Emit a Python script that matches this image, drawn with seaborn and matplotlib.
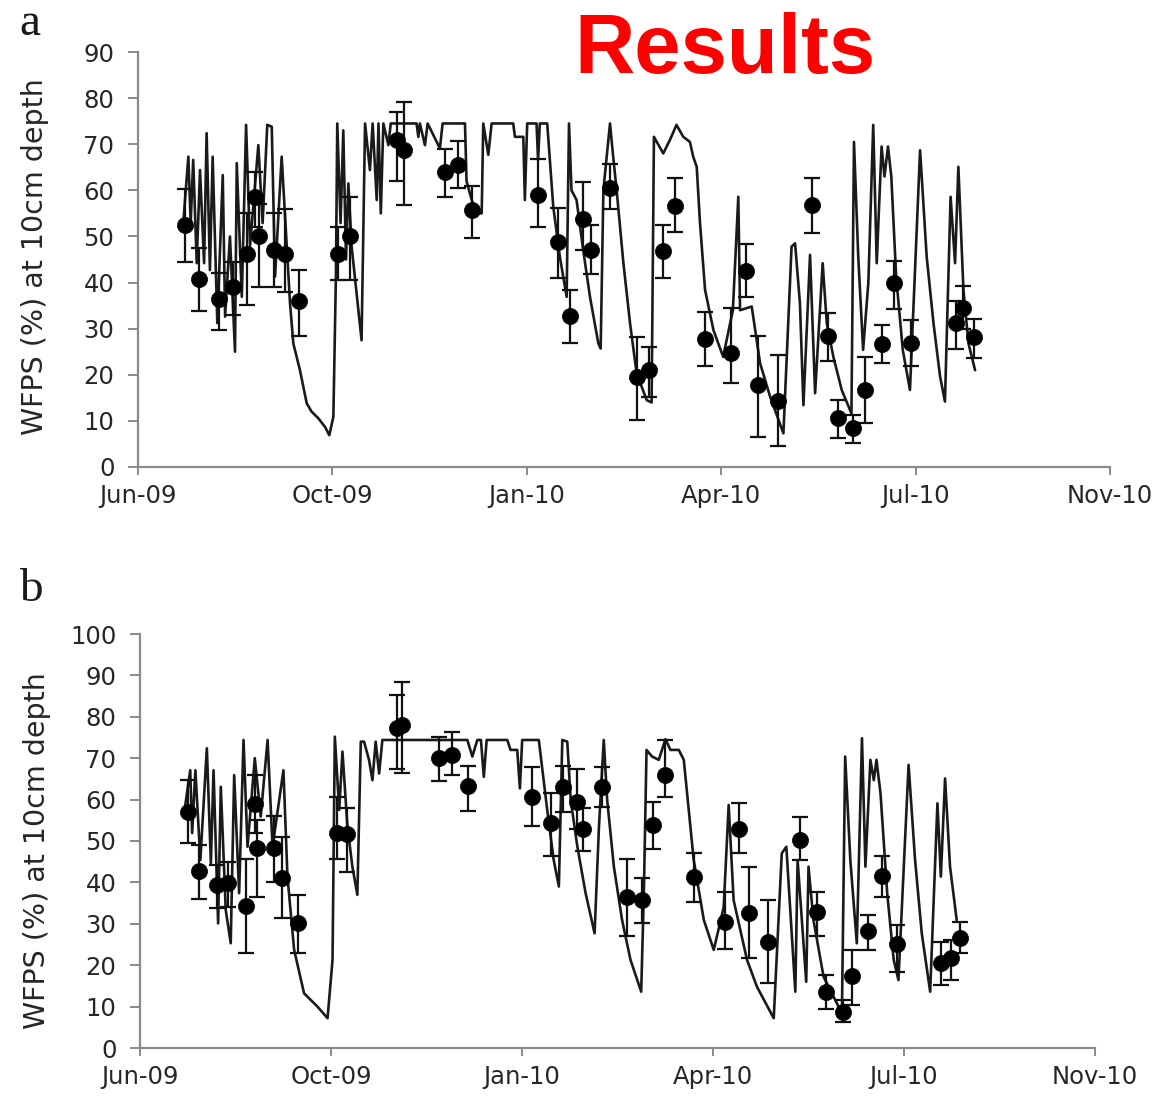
import numpy as np
import pandas as pd
import matplotlib
matplotlib.use("Agg")
import matplotlib.pyplot as plt
import seaborn as sns

# ---------------- data (days counted from 24 Jun 2009, the first axis tick) ----------------
START = "2009-06-24"
x_tick_labels = ["Jun-09", "Oct-09", "Jan-10", "Apr-10", "Jul-10", "Nov-10"]

# Panel a: simulated WFPS line (vertices)
line_a_day = [23.3, 25.9, 27.1, 28.4, 30.2, 31.9, 34.0, 35.3, 37.0, 38.4, 40.8, 43.6, 44.8, 47.3,
              49.9, 50.8, 53.4, 55.6, 57.6, 61.9, 64.1, 66.5, 68.8, 70.5, 73.9, 76.5, 78.2, 79.9,
              83.3, 86.8, 89.3, 92.7, 96.2, 98.4, 100.5, 101.8, 102.5, 104.2, 105.6, 107.0, 108.2,
              109.9, 115.0, 116.8, 119.3, 120.7, 122.8, 123.7, 124.9, 126.2, 128.8, 130.0, 143.3,
              144.2, 145.0, 147.6, 149.0, 155.3, 156.7, 168.2, 169.0, 171.6, 174.2, 176.8, 177.6, 180.2,
              181.9, 193.0, 193.9, 198.2, 199.0, 200.2, 205.0, 205.8, 206.7, 210.5, 213.6, 217.0,
              220.5, 221.7, 223.0, 225.6, 229.0, 232.5, 236.8, 238.0, 239.4, 242.8, 244.5, 246.2,
              249.7, 253.1, 256.5, 261.7, 264.2, 265.4, 270.2, 273.7, 277.0, 280.5, 283.9, 285.6,
              287.4, 289.1, 291.7, 296.0, 301.0, 306.0, 308.8, 309.7, 315.7, 320.0, 325.2, 332.0,
              336.2, 338.0, 340.5, 342.3, 345.7, 348.3, 352.2, 354.3, 357.7, 362.0, 367.0, 368.3,
              370.5, 373.0, 375.7, 378.2, 380.0, 382.5, 384.0, 385.8, 387.5, 390.0, 393.4, 397.1,
              402.3, 405.7, 409.2, 412.6, 415.1, 418.0, 420.3, 422.0, 424.6, 427.2, 430.6]
line_a_val = [53.0, 67.3, 52.9, 66.6, 44.2, 64.4, 44.2, 72.4, 42.7, 67.3, 31.2, 63.3, 32.6, 50.0,
              25.0, 65.9, 36.9, 74.2, 47.8, 69.8, 52.9, 74.2, 73.8, 41.3, 67.3, 48.0, 35.5, 26.8,
              21.0, 13.8, 12.0, 10.6, 8.7, 6.9, 10.9, 41.3, 74.5, 52.9, 73.0, 45.0, 61.5,
              47.8, 27.5, 74.5, 64.4, 74.5, 57.9, 74.5, 55.0, 74.5, 69.8, 74.5, 74.5,
              71.6, 74.5, 69.8, 74.5, 69.1, 74.5, 74.5, 62.0, 58.0, 55.0, 55.0, 74.5, 67.7,
              74.5, 74.5, 71.6, 71.6, 57.9, 74.5, 74.5, 66.6, 74.5, 74.5, 56.5, 45.6,
              36.9, 74.5, 60.0, 57.9, 47.1, 36.9, 26.8, 25.7, 60.1, 74.5, 67.0, 60.1,
              44.2, 31.2, 20.3, 14.5, 14.0, 71.6, 68.0, 71.0, 74.2, 71.6, 70.5, 67.3,
              65.1, 52.9, 38.4, 29.7, 23.9, 34.0, 58.6, 34.0, 34.8, 22.5, 15.2, 7.3,
              47.8, 48.5, 35.5, 13.4, 46.0, 16.0, 44.2, 31.2, 23.9, 16.7, 11.6, 70.5,
              45.6, 25.4, 40.0, 74.2, 44.2, 69.5, 63.0, 69.5, 63.0, 41.3, 25.4, 16.7,
              68.7, 45.6, 31.2, 19.6, 14.2, 58.6, 44.2, 65.1, 38.4, 26.8, 21.0]

# Panel a: measured WFPS (mean, upper and lower error-bar ends)
obs_a_day = [24.0, 31.4, 41.7, 49.0, 56.0, 60.0, 62.0, 70.0, 75.6, 82.8, 103.0, 109.0, 133.0, 137.0,
             158.0, 164.8, 171.6, 206.0, 216.0, 222.0, 229.0, 233.0, 242.8, 256.5, 263.0, 270.0,
             276.0, 291.7, 305.0, 313.0, 319.0, 329.0, 346.5, 355.0, 360.0, 368.0, 374.0, 382.5,
             389.0, 397.5, 421.0, 424.6, 430.0]
obs_a_val = [52.5, 40.7, 36.4, 39.1, 46.3, 58.6, 50.2, 47.1, 46.3, 35.9, 46.3, 50.0, 71.0, 68.7,
             64.0, 65.5, 55.7, 59.0, 48.9, 32.7, 53.7, 47.0, 60.6, 19.5, 21.0, 46.8,
             56.6, 27.7, 24.8, 42.5, 17.8, 14.4, 56.8, 28.4, 10.6, 8.4, 16.7, 26.7,
             39.8, 26.8, 31.2, 34.4, 28.1]
obs_a_hi = [60.2, 47.5, 42.0, 44.5, 55.0, 64.0, 57.0, 55.0, 56.0, 42.7, 52.0, 58.5, 77.0, 79.2,
            69.0, 70.6, 61.0, 66.9, 56.2, 38.4, 61.7, 52.5, 65.7, 28.3, 26.1, 52.5,
            62.6, 33.7, 34.4, 48.3, 28.4, 24.3, 62.6, 33.3, 14.5, 11.3, 23.9, 30.8,
            44.7, 31.9, 36.0, 39.3, 32.0]
obs_a_lo = [44.5, 33.9, 29.7, 33.0, 35.1, 52.0, 39.0, 39.0, 38.0, 28.4, 40.5, 40.5, 62.0, 56.8,
            58.5, 60.5, 49.7, 52.1, 41.0, 27.0, 47.0, 41.9, 56.0, 10.2, 15.2, 41.0,
            51.0, 21.9, 18.3, 36.9, 6.6, 4.6, 50.8, 23.0, 6.2, 5.1, 9.5, 22.5,
            34.2, 21.9, 25.5, 30.0, 23.7]

# Panel b: simulated WFPS line (vertices)
line_b_day = [23.2, 26.3, 27.3, 29.0, 31.6, 35.0, 37.1, 38.5, 40.9, 42.3, 44.9, 47.5, 49.3, 51.9,
              54.2, 56.3, 60.1, 63.2, 66.8, 69.4, 75.1, 77.2, 80.7, 85.9, 92.9, 98.2, 100.8, 102.0,
              104.3, 106.0, 108.6, 111.2, 113.8, 115.6, 117.3, 119.9, 121.7, 123.4, 125.2, 126.9,
              171.4, 174.0, 176.6, 178.5, 180.0, 181.5, 192.3, 194.0, 197.5, 198.9, 200.1, 208.8,
              213.2, 216.6, 219.3, 221.1, 223.7, 225.5, 229.0, 233.3, 238.0, 240.3, 242.8, 244.6,
              248.1, 252.4, 256.8, 262.4, 263.8, 265.2, 268.1, 271.6, 275.1, 277.7, 282.1, 284.7,
              287.3, 289.9, 295.2, 300.4, 305.6, 308.2, 310.8, 317.8, 323.0, 331.8, 336.0, 338.4,
              343.1, 344.3, 348.8, 350.0, 352.6, 357.9, 363.1, 367.5, 369.2, 371.9, 375.3, 378.0,
              379.8, 382.4, 384.2, 385.6, 387.7, 391.2, 394.6, 397.1, 402.4, 405.8, 409.3, 413.7,
              417.5, 419.3, 421.5, 424.1, 427.6]
line_b_val = [57.0, 67.1, 51.9, 67.1, 45.4, 72.4, 44.6, 67.1, 30.1, 63.1, 33.3, 25.3, 65.9, 37.4,
              74.4, 48.6, 70.0, 55.9, 74.4, 48.6, 67.1, 41.4, 23.7, 13.2, 10.0, 7.2, 21.3, 75.2,
              57.5, 71.6, 53.5, 43.8, 37.0, 74.0, 74.0, 69.6, 64.7, 74.0, 66.3, 74.4,
              74.4, 70.4, 74.4, 74.4, 65.5, 74.4, 74.4, 72.0, 72.0, 62.7, 74.4, 74.4,
              57.5, 45.4, 39.0, 74.4, 74.0, 59.9, 48.6, 37.4, 27.7, 53.5, 74.4, 59.9,
              43.8, 30.9, 21.3, 13.6, 37.4, 72.0, 70.4, 69.6, 74.6, 72.0, 72.0, 69.6,
              57.5, 45.4, 30.9, 23.7, 34.0, 58.7, 35.7, 21.3, 14.8, 7.2, 47.0, 48.6,
              13.6, 45.4, 16.0, 43.8, 30.9, 17.2, 12.4, 8.4, 70.4, 45.4, 25.3, 74.8,
              43.8, 69.6, 64.7, 69.6, 61.5, 37.4, 21.3, 16.4, 68.4, 45.4, 27.7, 13.6,
              59.1, 41.4, 65.1, 43.8, 30.9]

# Panel b: measured WFPS
obs_b_day = [25.0, 31.0, 40.3, 46.0, 55.4, 60.0, 61.5, 70.0, 74.6, 82.5, 103.4, 108.6, 134.8, 137.4,
             156.5, 163.5, 171.7, 205.4, 215.3, 221.6, 228.6, 232.0, 242.0, 255.0, 263.0, 268.7,
             275.0, 290.0, 306.5, 313.4, 318.7, 328.8, 345.7, 354.4, 359.3, 368.0, 372.7, 381.4,
             388.4, 396.3, 419.3, 424.5, 429.4]
obs_b_val = [57.1, 42.8, 39.4, 39.8, 34.3, 59.0, 48.2, 48.2, 41.0, 30.1, 51.9, 51.7, 77.2, 78.0,
             70.0, 70.8, 63.3, 60.7, 54.4, 63.1, 59.5, 53.0, 63.1, 36.4, 35.7, 53.9,
             66.0, 41.2, 30.5, 53.0, 32.7, 25.7, 50.2, 32.9, 13.6, 8.8, 17.4, 28.3,
             41.5, 25.1, 20.5, 21.7, 26.5]
obs_b_hi = [64.7, 49.0, 44.2, 45.0, 45.6, 66.0, 55.0, 56.0, 51.0, 37.0, 60.7, 58.0, 85.3, 88.5,
            75.2, 76.4, 68.0, 67.8, 61.7, 68.1, 67.3, 58.0, 67.8, 45.6, 41.0, 59.5,
            74.4, 47.2, 37.8, 59.1, 43.8, 35.7, 55.9, 37.8, 17.6, 11.6, 23.7, 32.1,
            46.4, 29.7, 25.7, 26.1, 30.5]
obs_b_lo = [49.6, 35.9, 33.7, 34.0, 23.0, 52.0, 36.5, 40.0, 31.3, 23.0, 45.6, 42.6, 67.3, 66.4,
            64.6, 66.0, 57.3, 53.7, 46.4, 57.1, 53.0, 47.7, 58.3, 27.0, 30.1, 48.0,
            60.7, 35.3, 23.8, 47.2, 21.8, 15.8, 45.4, 27.0, 9.3, 6.4, 10.4, 23.7,
            36.5, 18.4, 15.2, 16.4, 22.9]

# ---------------- style ----------------
sns.set_theme(style="white")
plt.rcParams['font.family'] = ['DejaVu Sans']

W, H = 1164, 1097
fig = plt.figure(figsize=(W / 100, H / 100), dpi=100)
fig.patch.set_facecolor("white")

start = pd.Timestamp(START)
ticks = [start + pd.Timedelta(days=100 * k) for k in range(len(x_tick_labels))]

SPINE = "#8a8a8a"
TXT = "#262626"


def to_dates(days):
    return start + pd.to_timedelta(np.asarray(days, dtype=float), unit="D")


def draw(ax, lday, lval, oday, oval, ohi, olo, ymax):
    ldf = pd.DataFrame({"date": to_dates(lday), "wfps": lval})
    odf = pd.DataFrame({"date": to_dates(oday), "wfps": oval, "hi": ohi, "lo": olo})
    sns.lineplot(data=ldf, x="date", y="wfps", ax=ax, color="#1a1a1a", lw=1.9,
                 estimator=None, sort=False, zorder=2)
    ax.errorbar(odf["date"], odf["wfps"],
                yerr=[odf["wfps"] - odf["lo"], odf["hi"] - odf["wfps"]],
                fmt="none", ecolor="#111111", elinewidth=1.6, capsize=5.5, capthick=1.6, zorder=3)
    sns.scatterplot(data=odf, x="date", y="wfps", ax=ax, color="black", s=135,
                    edgecolor="black", linewidth=0.5, zorder=4)
    ax.set_xlim(ticks[0], ticks[-1])
    ax.set_ylim(0, ymax)
    ax.set_yticks(np.arange(0, ymax + 1, 10))
    ax.set_xticks(ticks)
    ax.set_xticklabels(x_tick_labels)
    ax.set_xlabel("")
    ax.set_ylabel("")
    sns.despine(ax=ax)
    for s in ("left", "bottom"):
        ax.spines[s].set_color(SPINE)
        ax.spines[s].set_linewidth(1.6)
    ax.tick_params(axis="y", left=True, direction="out", length=7, width=1.4, color=SPINE,
                   labelsize=17.5, labelcolor=TXT, pad=10)
    ax.tick_params(axis="x", bottom=True, direction="out", length=6, width=1.4, color=SPINE,
                   labelsize=17.5, labelcolor=TXT, pad=6)
    ax.set_facecolor("white")
    ax.grid(False)


ax_a = fig.add_axes([138 / W, 1 - 467 / H, 972 / W, 415 / H])
ax_b = fig.add_axes([140 / W, 1 - 1048 / H, 955 / W, 414 / H])

draw(ax_a, line_a_day, line_a_val, obs_a_day, obs_a_val, obs_a_hi, obs_a_lo, 90)
draw(ax_b, line_b_day, line_b_val, obs_b_day, obs_b_val, obs_b_hi, obs_b_lo, 100)

ylab = "WFPS (%) at 10cm depth"
fig.text(35 / W, 1 - 257 / H, ylab, rotation=90, ha="center", va="center",
         fontsize=20.5, color=TXT)
fig.text(37 / W, 1 - 851 / H, ylab, rotation=90, ha="center", va="center",
         fontsize=20.5, color=TXT)

fig.text(19 / W, 1 - 35 / H, "a", ha="left", va="baseline", fontsize=34,
         family=["Liberation Serif", "DejaVu Serif"], color="#1a1a1a")
fig.text(19 / W, 1 - 601 / H, "b", ha="left", va="baseline", fontsize=34,
         family=["Liberation Serif", "DejaVu Serif"], color="#1a1a1a")

fig.text(725 / W, 1 - 73 / H, "Results", ha="center", va="baseline", fontsize=60,
         fontweight="bold", color="#ff0000", family=["Liberation Sans", "DejaVu Sans"])

fig.savefig("out.png", dpi=100, facecolor="white")
